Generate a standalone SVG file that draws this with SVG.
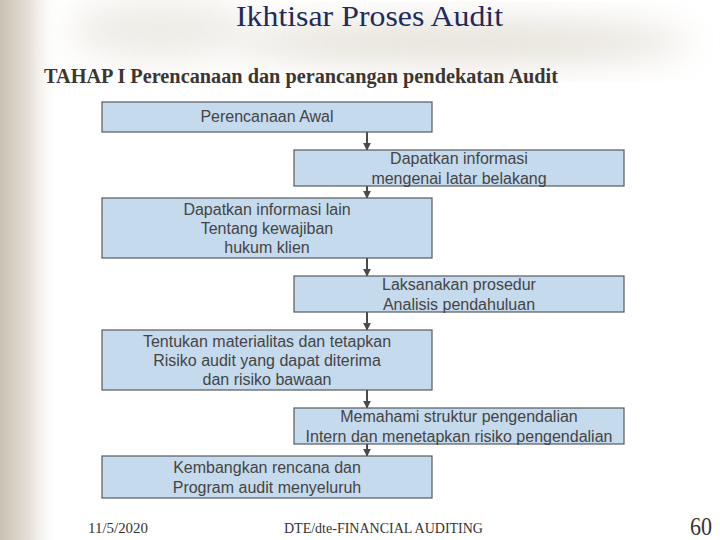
<svg xmlns="http://www.w3.org/2000/svg" width="720" height="540" viewBox="0 0 720 540">
<defs>
<linearGradient id="lg" x1="0" y1="0" x2="1" y2="0">
<stop offset="0" stop-color="#c9c1b3"/>
<stop offset="0.5" stop-color="#e6e1d8"/>
<stop offset="1" stop-color="#ffffff" stop-opacity="0"/>
</linearGradient>
<filter id="blur" x="-50%" y="-50%" width="200%" height="200%"><feGaussianBlur stdDeviation="18"/></filter>
<marker id="arr" viewBox="0 0 10 10" refX="9" refY="5" markerWidth="4" markerHeight="4" orient="auto">
<path d="M0,0 L10,5 L0,10 z" fill="#4a4a4a"/>
</marker>
<style>
.box{fill:#c6daed;stroke:#555a60;stroke-width:1.2}
.t{font-family:"Liberation Sans",Arial,sans-serif;font-size:16px;fill:#444;text-anchor:middle}
.c{stroke:#4a4a4a;stroke-width:2;fill:none;marker-end:url(#arr)}
.f{font-family:"Liberation Serif","Times New Roman",serif;fill:#333}
</style>
</defs>
<rect width="720" height="540" fill="#ffffff"/>
<rect x="0" y="0" width="60" height="540" fill="url(#lg)"/>
<ellipse cx="460" cy="42" rx="230" ry="20" fill="#d8d1c4" opacity="0.7" filter="url(#blur)"/>
<ellipse cx="160" cy="30" rx="90" ry="30" fill="#e4dfd6" opacity="0.6" filter="url(#blur)"/>
<text x="236" y="26" font-family="Liberation Serif,serif" font-size="30" fill="#1f2a5e" textLength="267" lengthAdjust="spacingAndGlyphs">Ikhtisar Proses Audit</text>
<text x="44" y="83" font-family="Liberation Serif,serif" font-size="20" font-weight="bold" fill="#3b3631" textLength="514" lengthAdjust="spacingAndGlyphs">TAHAP I  Perencanaan dan perancangan pendekatan Audit</text>
<g id="connectors">
<line class="c" x1="367" y1="132" x2="367" y2="150"/>
<line class="c" x1="367" y1="186" x2="367" y2="198"/>
<line class="c" x1="367" y1="258" x2="367" y2="276"/>
<line class="c" x1="367" y1="312" x2="367" y2="330"/>
<line class="c" x1="367" y1="390" x2="367" y2="408"/>
<line class="c" x1="367" y1="444" x2="367" y2="456"/>
</g>
<g id="n1"><rect class="box" x="102" y="102" width="330" height="30"/><text class="t" x="267" y="122">Perencanaan Awal</text></g>
<g id="n2"><rect class="box" x="294" y="150" width="330" height="36"/><text class="t" x="459" y="164">Dapatkan informasi</text><text class="t" x="459" y="184">mengenai latar belakang</text></g>
<g id="n3"><rect class="box" x="102" y="198" width="330" height="60"/><text class="t" x="267" y="215">Dapatkan informasi lain</text><text class="t" x="267" y="234">Tentang kewajiban</text><text class="t" x="267" y="253">hukum klien</text></g>
<g id="n4"><rect class="box" x="294" y="276" width="330" height="36"/><text class="t" x="459" y="290">Laksanakan prosedur</text><text class="t" x="459" y="310">Analisis pendahuluan</text></g>
<g id="n5"><rect class="box" x="102" y="330" width="330" height="60"/><text class="t" x="267" y="347">Tentukan materialitas dan tetapkan</text><text class="t" x="267" y="366">Risiko audit yang dapat diterima</text><text class="t" x="267" y="385">dan risiko bawaan</text></g>
<g id="n6"><rect class="box" x="294" y="408" width="330" height="36"/><text class="t" x="459" y="422">Memahami struktur pengendalian</text><text class="t" x="459" y="442">Intern dan menetapkan risiko pengendalian</text></g>
<g id="n7"><rect class="box" x="102" y="456" width="330" height="42"/><text class="t" x="267" y="473">Kembangkan rencana dan</text><text class="t" x="267" y="493">Program audit menyeluruh</text></g>
<text class="f" x="88" y="533" font-size="15" textLength="60" lengthAdjust="spacingAndGlyphs">11/5/2020</text>
<text class="f" x="284" y="533" font-size="15" textLength="199" lengthAdjust="spacingAndGlyphs">DTE/dte-FINANCIAL AUDITING</text>
<text class="f" x="690" y="535" font-size="26" textLength="22" lengthAdjust="spacingAndGlyphs">60</text>
</svg>
